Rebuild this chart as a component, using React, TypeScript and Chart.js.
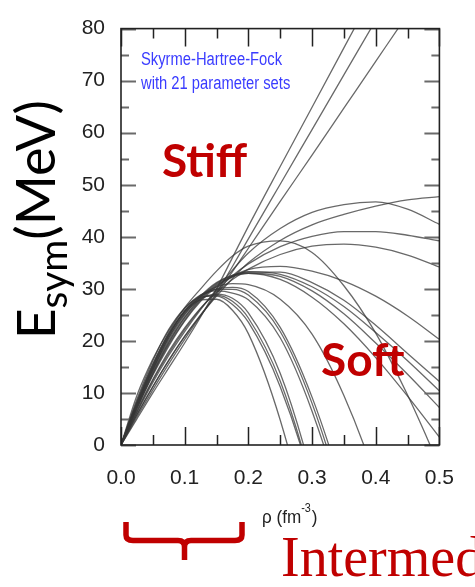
import React, { useEffect, useRef } from "react";
import { Chart, registerables } from "chart.js";
Chart.register(...registerables);

// density grid (fm^-3)
const RHO = [0, 0.025, 0.05, 0.075, 0.1, 0.125, 0.15, 0.175, 0.2, 0.25, 0.3, 0.35, 0.4, 0.45, 0.5];

// Esym (MeV) at each density
const STIFF_1 = [0, 5.0, 10.0, 14.8, 19.6, 24.6, 30.0, 36.0, 42.0, 53.5, 64.9, 76.3, 87.7, 99.1, 110.5];
const STIFF_2 = [0, 5.4, 10.6, 15.6, 20.3, 24.8, 29.2, 34.3, 39.6, 50.1, 60.6, 71.1, 81.6, 92.1, 102.6];
const STIFF_3 = [0, 5.8, 11.2, 16.3, 20.9, 25.0, 28.9, 33.3, 37.8, 46.8, 55.7, 64.7, 73.7, 82.7, 91.6];
const RISE_A = [0, 5.8, 11.2, 16.2, 20.8, 24.9, 28.6, 32.0, 35.0, 39.3, 42.3, 44.3, 45.9, 47.1, 47.7];
const RISE_B = [0, 6.2, 12.0, 17.2, 21.8, 26.0, 29.9, 33.6, 36.9, 41.6, 44.7, 46.2, 46.7, 45.3, 42.4];
const RISE_C = [0, 6.4, 12.4, 17.6, 22.2, 26.2, 29.6, 32.5, 34.8, 38.1, 40.1, 41.0, 41.0, 40.3, 39.2];
const RISE_D = [0, 6.6, 12.6, 18.0, 22.5, 26.3, 29.3, 31.8, 33.8, 36.6, 38.2, 38.6, 38.0, 36.5, 34.2];
const ARCH_E = [0, 9.5, 16.5, 22.0, 26.4, 30.0, 33.4, 36.3, 38.2, 39.2, 37.0, 30.6, 21.5, 9.6, -4.0];
const ARCH_F = [0, 7.0, 13.4, 19.0, 23.8, 27.6, 30.4, 32.4, 33.7, 34.3, 33.4, 31.5, 28.6, 24.8, 20.3];
const ARCH_G = [0, 7.2, 13.8, 19.6, 24.4, 28.0, 30.8, 32.4, 33.2, 33.2, 31.2, 27.8, 23.0, 17.6, 12.2];
const ARCH_H = [0, 7.4, 14.0, 19.8, 24.6, 28.3, 31.0, 32.6, 33.3, 32.8, 30.4, 26.6, 21.6, 16.2, 10.4];
const ARCH_I = [0, 7.0, 13.6, 19.3, 24.0, 27.8, 30.6, 32.3, 33.0, 32.4, 29.6, 25.2, 19.6, 13.6, 7.2];
const ARCH_J = [0, 7.6, 14.4, 20.2, 25.0, 28.6, 31.2, 32.6, 33.0, 31.8, 28.4, 23.3, 16.8, 9.4, 1.5];
const SOFT_K = [0, 8.0, 15.0, 21.0, 25.8, 28.8, 30.4, 31.0, 30.8, 28.0, 21.3, 9.5, -6.5, -27, -50];
const SOFT_M1 = [0, 8.2, 15.4, 21.6, 26.2, 28.8, 29.6, 29.2, 27.9, 20.6, 6.5, -13, -38, -68, -100];
const SOFT_M2 = [0, 7.8, 14.9, 21.0, 25.7, 28.6, 29.9, 29.9, 28.8, 21.8, 8.0, -11.5, -36, -65, -98];
const SOFT_M3 = [0, 7.4, 14.4, 20.6, 25.4, 28.5, 30.0, 30.3, 29.5, 22.6, 9.2, -9.5, -33, -62, -95];
const SOFT_Q1 = [0, 8.8, 16.2, 22.2, 26.3, 28.4, 28.6, 27.0, 23.6, 11.2, -8, -38, -72, -110, -150];
const SOFT_Q2 = [0, 8.0, 15.2, 21.2, 25.7, 28.2, 28.8, 27.6, 24.4, 12.3, -7.5, -35, -68, -105, -145];
const SOFT_Q3 = [0, 7.6, 14.6, 20.6, 25.2, 28.0, 29.0, 28.2, 25.4, 13.8, -6.0, -33, -66, -104, -145];
const SOFT_P = [0, 8.4, 15.6, 21.4, 25.6, 27.9, 28.0, 25.9, 21.4, 4.8, -19, -50, -90, -130, -175];

const CURVES = [
  STIFF_1, STIFF_2, STIFF_3, RISE_A, RISE_B, RISE_C, RISE_D, ARCH_E, ARCH_F, ARCH_G, ARCH_H,
  ARCH_I, ARCH_J, SOFT_K, SOFT_M1, SOFT_M2, SOFT_M3, SOFT_Q1, SOFT_Q2, SOFT_Q3, SOFT_P,
];

const X_MIN = 0, X_MAX = 0.5, X_STEP = 0.1, X_MINOR = 0.05;
const Y_MIN = 0, Y_MAX = 80, Y_STEP = 10, Y_MINOR = 5;

const RED = "#c00000";
const BLUE = "#3a3cff";
const SANS = '"Liberation Sans", Arial, sans-serif';
const HUMAN = 'Lato, "Open Sans", sans-serif';

// draw text horizontally condensed (narrow face emulation)
function narrowText(ctx: CanvasRenderingContext2D, text: string, x: number, y: number, sx: number) {
  ctx.save();
  ctx.translate(x, y);
  ctx.scale(sx, 1);
  ctx.fillText(text, 0, 0);
  const w = ctx.measureText(text).width * sx;
  ctx.restore();
  return w;
}

export default function App() {
  const ref = useRef<HTMLCanvasElement>(null);

  useEffect(() => {
    const canvas = ref.current;
    if (!canvas) return;

    const overlay = {
      id: "overlay",
      afterDatasetsDraw(chart: any) {
        const { ctx, chartArea: a, scales } = chart;
        const xs = scales.x, ys = scales.y;
        ctx.save();
        // ticks (inward)
        ctx.strokeStyle = "#6a6a6a";
        ctx.lineWidth = 2;
        for (let v = Y_MIN; v <= Y_MAX + 1e-9; v += Y_MINOR) {
          const y = Math.round(ys.getPixelForValue(v)) + 0.5;
          const major = Math.abs(v / Y_STEP - Math.round(v / Y_STEP)) < 1e-6;
          const len = major ? 15 : 8;
          ctx.beginPath();
          ctx.moveTo(a.left, y); ctx.lineTo(a.left + len, y);
          ctx.moveTo(a.right, y); ctx.lineTo(a.right - len, y);
          ctx.stroke();
        }
        ctx.strokeStyle = "#222";
        ctx.lineWidth = 1.5;
        for (let v = X_MIN; v <= X_MAX + 1e-9; v += X_MINOR) {
          const x = Math.round(xs.getPixelForValue(v)) + 0.5;
          const major = Math.abs(v / X_STEP - Math.round(v / X_STEP)) < 1e-6;
          const len = major ? 18 : 10;
          ctx.beginPath();
          ctx.moveTo(x, a.bottom); ctx.lineTo(x, a.bottom - len);
          ctx.moveTo(x, a.top); ctx.lineTo(x, a.top + len);
          ctx.stroke();
        }
        // frame
        ctx.strokeStyle = "#222";
        ctx.lineWidth = 1.6;
        ctx.strokeRect(a.left, a.top, a.right - a.left, a.bottom - a.top);

        // annotations
        ctx.fillStyle = BLUE;
        ctx.font = `18px ${SANS}`;
        ctx.textBaseline = "alphabetic";
        ctx.textAlign = "left";
        narrowText(ctx, "Skyrme-Hartree-Fock", 141, 65, 0.82);
        narrowText(ctx, "with 21 parameter sets", 141, 89, 0.82);

        ctx.fillStyle = RED;
        ctx.font = `bold 46px ${HUMAN}`;
        ctx.fillText("Stiff", 162, 177);
        ctx.fillText("Soft", 321, 376);
        ctx.restore();
      },
      afterDraw(chart: any) {
        const { ctx } = chart;
        ctx.save();
        // y title: E_sym(MeV)
        ctx.translate(55, 339);
        ctx.rotate(-Math.PI / 2);
        ctx.fillStyle = "#000";
        ctx.textBaseline = "alphabetic";
        ctx.textAlign = "left";
        ctx.font = `53px ${HUMAN}`;
        ctx.fillText("E", 0, 0);
        let w = ctx.measureText("E").width;
        ctx.font = `39px ${HUMAN}`;
        ctx.fillText("sym", w, 12);
        w += ctx.measureText("sym").width;
        ctx.font = `54px ${HUMAN}`;
        ctx.fillText("(MeV)", w, 0);
        ctx.restore();

        ctx.save();
        // x title
        ctx.fillStyle = "#222";
        ctx.textBaseline = "alphabetic";
        ctx.textAlign = "left";
        ctx.font = `19px ${SANS}`;
        let tx = 262;
        tx += narrowText(ctx, "\u03c1 (fm", tx, 523, 0.9);
        ctx.font = `12px ${SANS}`;
        tx += narrowText(ctx, "-3", tx, 512, 0.9);
        ctx.font = `19px ${SANS}`;
        narrowText(ctx, ")", tx + 1, 523, 0.9);

        // red brace
        ctx.strokeStyle = RED;
        ctx.lineWidth = 5.5;
        ctx.lineJoin = "round";
        ctx.beginPath();
        ctx.moveTo(126, 522);
        ctx.lineTo(126, 535);
        ctx.quadraticCurveTo(126, 540.5, 133, 540.5);
        ctx.lineTo(178, 540.5);
        ctx.quadraticCurveTo(184.5, 540.5, 184.5, 547);
        ctx.lineTo(184.5, 560);
        ctx.moveTo(184.5, 547);
        ctx.quadraticCurveTo(184.5, 540.5, 191, 540.5);
        ctx.lineTo(235, 540.5);
        ctx.quadraticCurveTo(242, 540.5, 242, 535);
        ctx.lineTo(242, 522);
        ctx.stroke();

        ctx.fillStyle = RED;
        ctx.font = '56px "Liberation Serif", "DejaVu Serif", serif';
        ctx.fillText("Intermediate", 281, 576);
        ctx.restore();
      },
    };

    const chart = new Chart(canvas, {
      type: "line",
      data: {
        datasets: CURVES.map((c) => ({
          data: c.map((y, i) => ({ x: RHO[i], y })),
          borderColor: "rgba(55,55,55,0.75)",
          borderWidth: 1.3,
          pointRadius: 0,
          fill: false,
          cubicInterpolationMode: "monotone" as const,
        })),
      },
      options: {
        responsive: false,
        animation: false,
        devicePixelRatio: 1,
        layout: { padding: { left: 0, top: 20, right: 13, bottom: 0 } },
        plugins: { legend: { display: false }, tooltip: { enabled: false }, title: { display: false } },
        scales: {
          x: {
            type: "linear",
            min: X_MIN,
            max: X_MAX,
            grid: { display: false, drawTicks: false },
            border: { display: false },
            ticks: {
              stepSize: X_STEP,
              padding: 21,
              color: "#222",
              font: { family: SANS, size: 21 },
              callback: (v: any) => Number(v).toFixed(1),
              maxRotation: 0,
            },
            afterFit: (s: any) => { s.height = 142; },
          },
          y: {
            type: "linear",
            min: Y_MIN,
            max: Y_MAX,
            grid: { display: false, drawTicks: false },
            border: { display: false },
            ticks: {
              stepSize: Y_STEP,
              padding: 16,
              color: "#222",
              font: { family: SANS, size: 21 },
            },
            afterFit: (s: any) => { s.width = 121; },
          },
        },
      },
      plugins: [overlay],
    });
    return () => chart.destroy();
  }, []);

  return (
    <div style={{ position: "fixed", left: 0, top: 0, width: 475, height: 587, background: "#fff", overflow: "hidden" }}>
      <canvas ref={ref} width={475} height={587} style={{ width: 475, height: 587, display: "block" }} />
    </div>
  );
}
